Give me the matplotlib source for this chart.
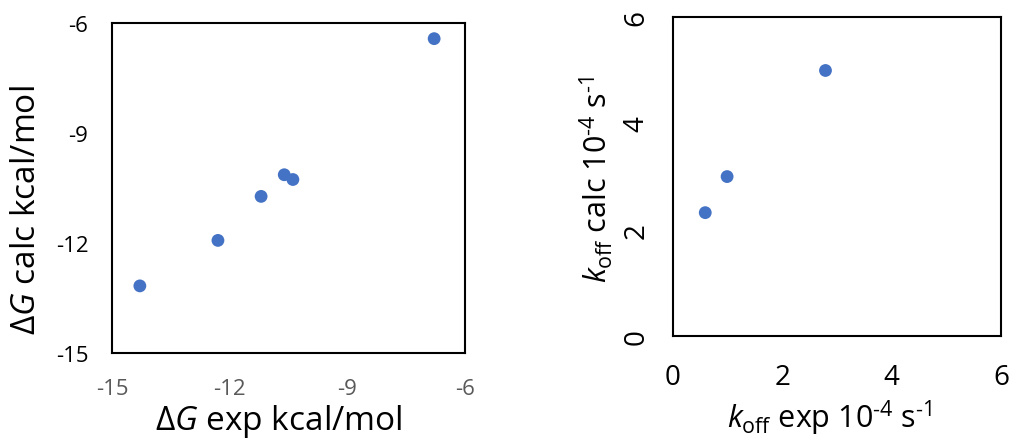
import matplotlib
matplotlib.use("Agg")
import matplotlib.pyplot as plt

plt.rcParams['font.family'] = ['Open Sans', 'DejaVu Sans']
plt.rcParams['mathtext.fontset'] = 'custom'
plt.rcParams['mathtext.rm'] = 'Open Sans'
plt.rcParams['mathtext.it'] = 'Open Sans:italic'
plt.rcParams['mathtext.bf'] = 'Open Sans:bold'
plt.rcParams['axes.unicode_minus'] = False

# Binding free energies (kcal/mol)
dg_exp = [-14.29, -12.30, -11.20, -10.61, -10.39, -6.79]
dg_calc = [-13.17, -11.93, -10.73, -10.14, -10.27, -6.43]
dg_ticks = [-15, -12, -9, -6]

# Dissociation rates (10^-4 s^-1)
koff_exp = [0.59, 0.99, 2.79]
koff_calc = [2.32, 3.00, 5.00]
koff_ticks = [0, 2, 4, 6]

blue = '#4472C4'
HY = '\u2010'  # typographic hyphen for the exponents


def style_frame(ax):
    for sp in ax.spines.values():
        sp.set_linewidth(1.5)
        sp.set_color('black')


def place_labels(ax, xpos, ypos):
    ax.xaxis.set_label_coords(*xpos)
    ax.yaxis.set_label_coords(*ypos)
    ax.xaxis.label.set_va('center')
    ax.yaxis.label.set_va('center')


fig = plt.figure(figsize=(10.09, 4.39), dpi=100)

# Free energy panel
ax1 = fig.add_axes([0.111, 0.1936, 0.350, 0.752])
ax1.scatter(dg_exp, dg_calc, s=85, color=blue, edgecolors='none', zorder=3)
ax1.set_xlim(-15, -6)
ax1.set_ylim(-15, -6)
ax1.set_xticks(dg_ticks)
ax1.set_yticks(dg_ticks)
ax1.tick_params(axis='both', length=0)
ax1.tick_params(axis='x', labelsize=16, labelcolor='#595959', pad=18)
ax1.tick_params(axis='y', labelsize=16, labelcolor='black', pad=17)
ax1.set_xlabel(r'Δ$\it{G}$ exp kcal/mol', fontsize=24)
ax1.set_ylabel(r'Δ$\it{G}$ calc kcal/mol', fontsize=24)
place_labels(ax1, (0.472, -0.203), (-0.241, 0.436))
style_frame(ax1)

# Rate constant panel
ax2 = fig.add_axes([0.667, 0.233, 0.325, 0.725])
ax2.scatter(koff_exp, koff_calc, s=85, color=blue, edgecolors='none', zorder=3)
ax2.set_xlim(0, 6)
ax2.set_ylim(0, 6)
ax2.set_xticks(koff_ticks)
ax2.set_yticks(koff_ticks)
ax2.tick_params(axis='both', length=0, labelsize=20, labelcolor='black')
ax2.tick_params(axis='x', pad=20)
ax2.tick_params(axis='y', pad=16)
for lab in ax2.get_yticklabels():
    lab.set_rotation(90)
    lab.set_va('center')
xl = r'$k_{\mathrm{off}}$ exp 10$^{\mathrm{' + HY + r'4}}$ s$^{\mathrm{' + HY + r'1}}$'
yl = r'$k_{\mathrm{off}}$ calc 10$^{\mathrm{' + HY + r'4}}$ s$^{\mathrm{' + HY + r'1}}$'
ax2.set_xlabel(xl, fontsize=22)
ax2.set_ylabel(yl, fontsize=22)
place_labels(ax2, (0.478, -0.256), (-0.233, 0.493))
style_frame(ax2)

fig.savefig('out.png', dpi=100)
